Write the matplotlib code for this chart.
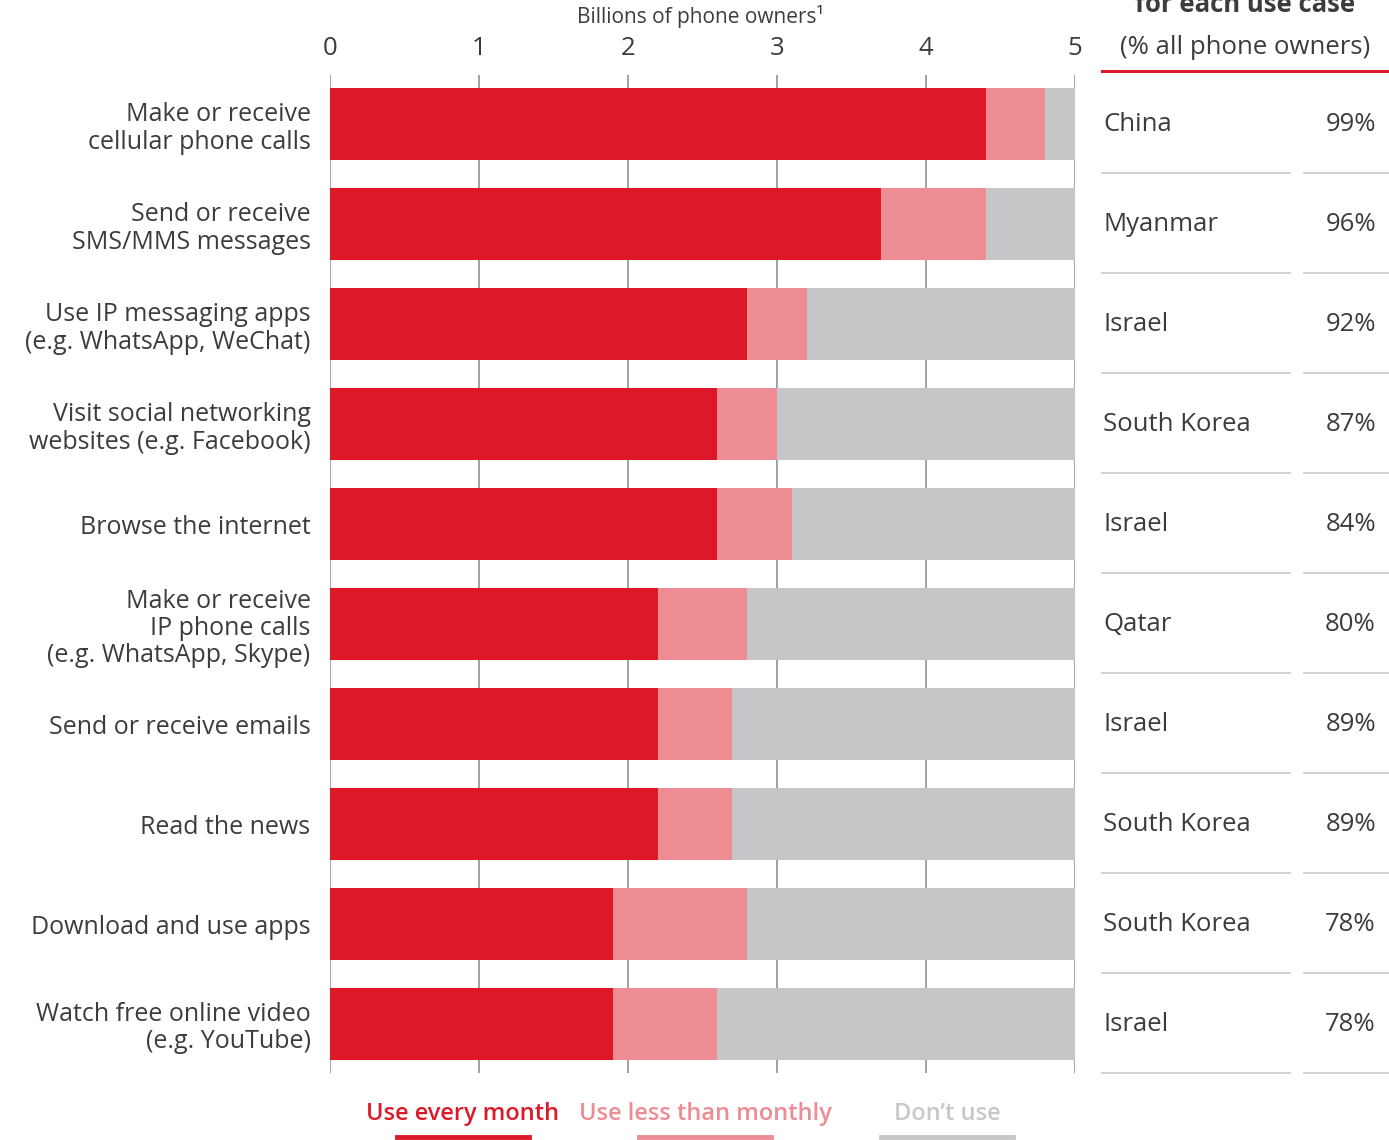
import numpy as np
import matplotlib
matplotlib.use("Agg")
import matplotlib.pyplot as plt

# data
categories = [
    "Make or receive\ncellular phone calls",
    "Send or receive\nSMS/MMS messages",
    "Use IP messaging apps\n(e.g. WhatsApp, WeChat)",
    "Visit social networking\nwebsites (e.g. Facebook)",
    "Browse the internet",
    "Make or receive\nIP phone calls\n(e.g. WhatsApp, Skype)",
    "Send or receive emails",
    "Read the news",
    "Download and use apps",
    "Watch free online video\n(e.g. YouTube)",
]
every_month = [4.4, 3.7, 2.8, 2.6, 2.6, 2.2, 2.2, 2.2, 1.9, 1.9]
less_monthly = [0.4, 0.7, 0.4, 0.4, 0.5, 0.6, 0.5, 0.5, 0.9, 0.7]
dont_use = [0.2, 0.6, 1.8, 2.0, 1.9, 2.2, 2.3, 2.3, 2.2, 2.4]
countries = ["China", "Myanmar", "Israel", "South Korea", "Israel",
             "Qatar", "Israel", "South Korea", "South Korea", "Israel"]
top_pct = ["99%", "96%", "92%", "87%", "84%", "80%", "89%", "89%", "78%", "78%"]
x_ticks = [0, 1, 2, 3, 4, 5]
legend_labels = ["Use every month", "Use less than monthly", "Don\u2019t use"]

RED = "#dc1928"
PINK = "#ee8c94"
GREY = "#c6c6c8"
TXT = "#3c3c3c"

plt.rcParams['font.family'] = ['Open Sans', 'DejaVu Sans']

W, H = 1389, 1140
fig = plt.figure(figsize=(W / 100, H / 100), dpi=100)


def box(x0, y0, x1, y1):
    # pixel box (top-left origin) -> figure fraction rect
    return [x0 / W, 1 - y1 / H, (x1 - x0) / W, (y1 - y0) / H]


ax = fig.add_axes(box(330, 75, 1075, 1073))
y = np.arange(len(categories))
h = 0.72
left2 = np.array(every_month) + np.array(less_monthly)
ax.barh(y, every_month, height=h, color=RED, zorder=2)
ax.barh(y, less_monthly, left=every_month, height=h, color=PINK, zorder=2)
ax.barh(y, dont_use, left=left2, height=h, color=GREY, zorder=2)

for xv in x_ticks:
    ax.axvline(xv, color="#9a9a9a", lw=1.3, zorder=1)

ax.set_xlim(0, 5)
ax.set_ylim(len(categories) - 0.51, -0.495)
ax.xaxis.tick_top()
ax.set_xticks(x_ticks)
ax.set_xticklabels([str(t) for t in x_ticks], fontsize=18.5, color=TXT)
ax.tick_params(axis="x", length=0, pad=10)
ax.set_yticks(y)
ax.set_yticklabels(categories, fontsize=18, color=TXT, linespacing=1.12)
ax.tick_params(axis="y", length=0, pad=14)
for s in ax.spines.values():
    s.set_visible(False)

fig.text(700 / W, 1 - 17 / H, "Billions of phone owners\u00b9", fontsize=15,
         color=TXT, ha="center", va="center")

# right-hand table
tb = fig.add_axes(box(1102, 75, 1389, 1073))
tb.set_xlim(1102, 1389)
tb.set_ylim(len(categories) - 0.51, -0.495)
tb.axis("off")
for i in range(len(countries)):
    tb.text(1103, i, countries[i], fontsize=18.5, color=TXT, va="center", ha="left")
    tb.text(1376, i, top_pct[i], fontsize=18.5, color=TXT, va="center", ha="right")
    tb.plot([1102, 1290], [i + 0.485, i + 0.485], color="#cfcfcf", lw=1.3, clip_on=False)
    tb.plot([1304, 1389], [i + 0.485, i + 0.485], color="#cfcfcf", lw=1.3, clip_on=False)

fig.text(1245 / W, 1 - 4 / H, "for each use case", fontsize=18.5, fontweight="bold",
         color=TXT, ha="center", va="center")
fig.text(1245 / W, 1 - 48 / H, "(% all phone owners)", fontsize=18.5,
         color=TXT, ha="center", va="center")
fig.add_artist(plt.Line2D([1102 / W, 1389 / W], [1 - 71 / H, 1 - 71 / H],
                          color=RED, lw=2.2))

# legend
leg_x = [463, 705, 947]
leg_col = [RED, PINK, "#c8c8c8"]
for lx, lab, c in zip(leg_x, legend_labels, leg_col):
    fig.text(lx / W, 1 - 1114 / H, lab, fontsize=17, fontweight="semibold",
             color=c, ha="center", va="center")
    fig.add_artist(plt.Line2D([(lx - 66) / W, (lx + 66) / W], [1 - 1137 / H, 1 - 1137 / H],
                              color=c, lw=3.5))

fig.savefig("out.png", dpi=100)
